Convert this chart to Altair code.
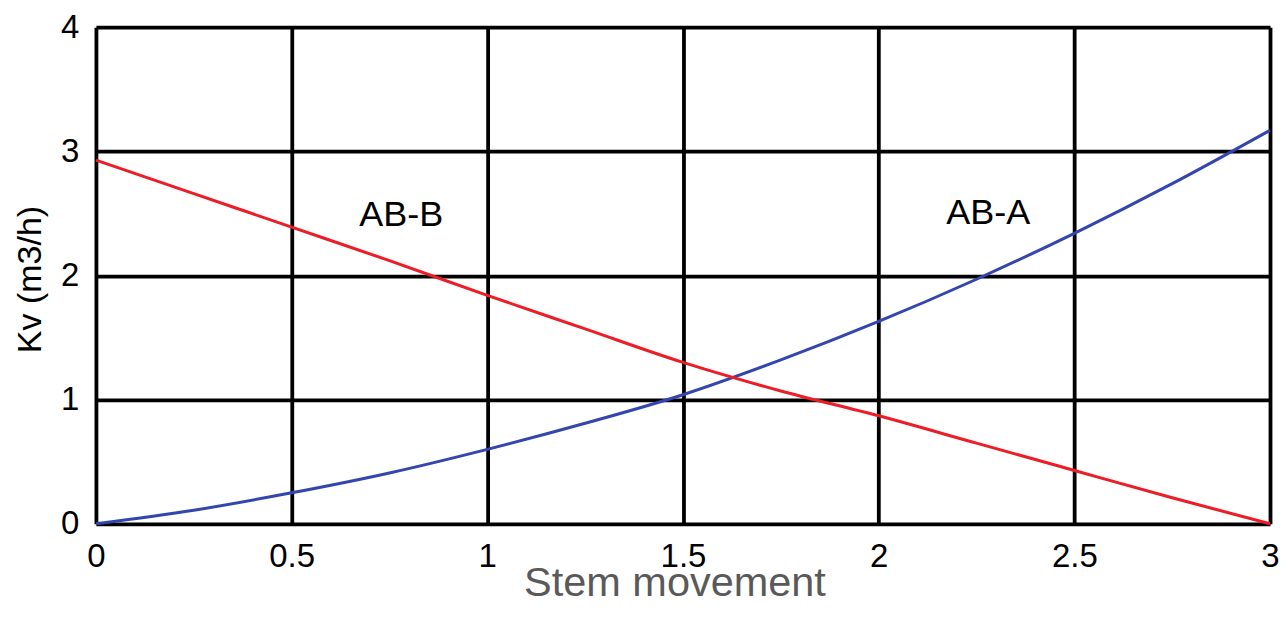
import altair as alt
import pandas as pd

# Data
stem = [0, 0.25, 0.5, 0.75, 1.0, 1.25, 1.5, 1.75, 2.0, 2.25, 2.5, 2.75, 3.0]
kv_ab_a = [0.0, 0.11, 0.25, 0.41, 0.60, 0.81, 1.04, 1.32, 1.63, 1.97, 2.34, 2.74, 3.17]
kv_ab_b = [2.93, 2.66, 2.39, 2.12, 1.84, 1.57, 1.30, 1.07, 0.87, 0.65, 0.43, 0.21, 0.0]

label_text = ["AB-B", "AB-A"]
label_x = [0.78, 2.28]
label_y = [2.49, 2.50]

x_ticks = [0, 0.5, 1, 1.5, 2, 2.5, 3]
y_ticks = [0, 1, 2, 3, 4]

series_names = ["AB-A", "AB-B"]
series_colors = ["#3346b0", "#ee1c25"]

rows = []
for s, a, b in zip(stem, kv_ab_a, kv_ab_b):
    rows.append({"stem": s, "kv": a, "series": "AB-A"})
    rows.append({"stem": s, "kv": b, "series": "AB-B"})
df = pd.DataFrame(rows)
labels_df = pd.DataFrame({"text": label_text, "x": label_x, "y": label_y})

FONT = "Liberation Sans"

x_scale = alt.Scale(domain=[0, 3], nice=False, zero=False)
y_scale = alt.Scale(domain=[0, 4], nice=False, zero=False)

lines = alt.Chart(df).mark_line(strokeWidth=3, interpolate="monotone").encode(
    x=alt.X(
        "stem:Q",
        scale=x_scale,
        axis=alt.Axis(
            values=x_ticks,
            format="~g",
            title="Stem movement",
            titleFont=FONT,
            titleFontSize=41.5,
            titleFontWeight="normal",
            titleColor="#595959",
            titleBaseline="alphabetic",
            titleY=72,
            titleX=579,
            titleAlign="center",
            labelFont=FONT,
            labelFontSize=33,
            labelColor="#000000",
            labelPadding=17,
            labelFlush=False,
            ticks=False,
            domain=False,
            grid=True,
            gridColor="#000000",
            gridWidth=3.8,
            gridOpacity=1,
        ),
    ),
    y=alt.Y(
        "kv:Q",
        scale=y_scale,
        axis=alt.Axis(
            values=y_ticks,
            format="~g",
            title="Kv (m3/h)",
            titleFont=FONT,
            titleFontSize=34,
            titleFontWeight="normal",
            titleColor="#000000",
            titleAngle=-90,
            titleBaseline="alphabetic",
            titleAlign="center",
            titleX=-55,
            titleY=252,
            labelFont=FONT,
            labelFontSize=33,
            labelColor="#000000",
            labelPadding=17,
            labelFlush=False,
            ticks=False,
            domain=False,
            grid=True,
            gridColor="#000000",
            gridWidth=3.8,
            gridOpacity=1,
        ),
    ),
    color=alt.Color(
        "series:N",
        scale=alt.Scale(domain=series_names, range=series_colors),
        legend=None,
    ),
    detail="series:N",
)

texts = alt.Chart(labels_df).mark_text(
    font=FONT, fontSize=36, color="#000000", align="center", baseline="middle"
).encode(
    x=alt.X("x:Q", scale=x_scale),
    y=alt.Y("y:Q", scale=y_scale),
    text="text:N",
)

chart = alt.layer(lines, texts).properties(
    width=1175,
    height=497,
    autosize=alt.AutoSizeParams(type="none"),
    padding={"left": 88, "top": 19, "right": 10, "bottom": 90},
).configure_view(
    stroke="#000000", strokeWidth=4
).configure(background="#ffffff")

chart.save("out.html", embed_options={"renderer": "svg", "actions": False})
